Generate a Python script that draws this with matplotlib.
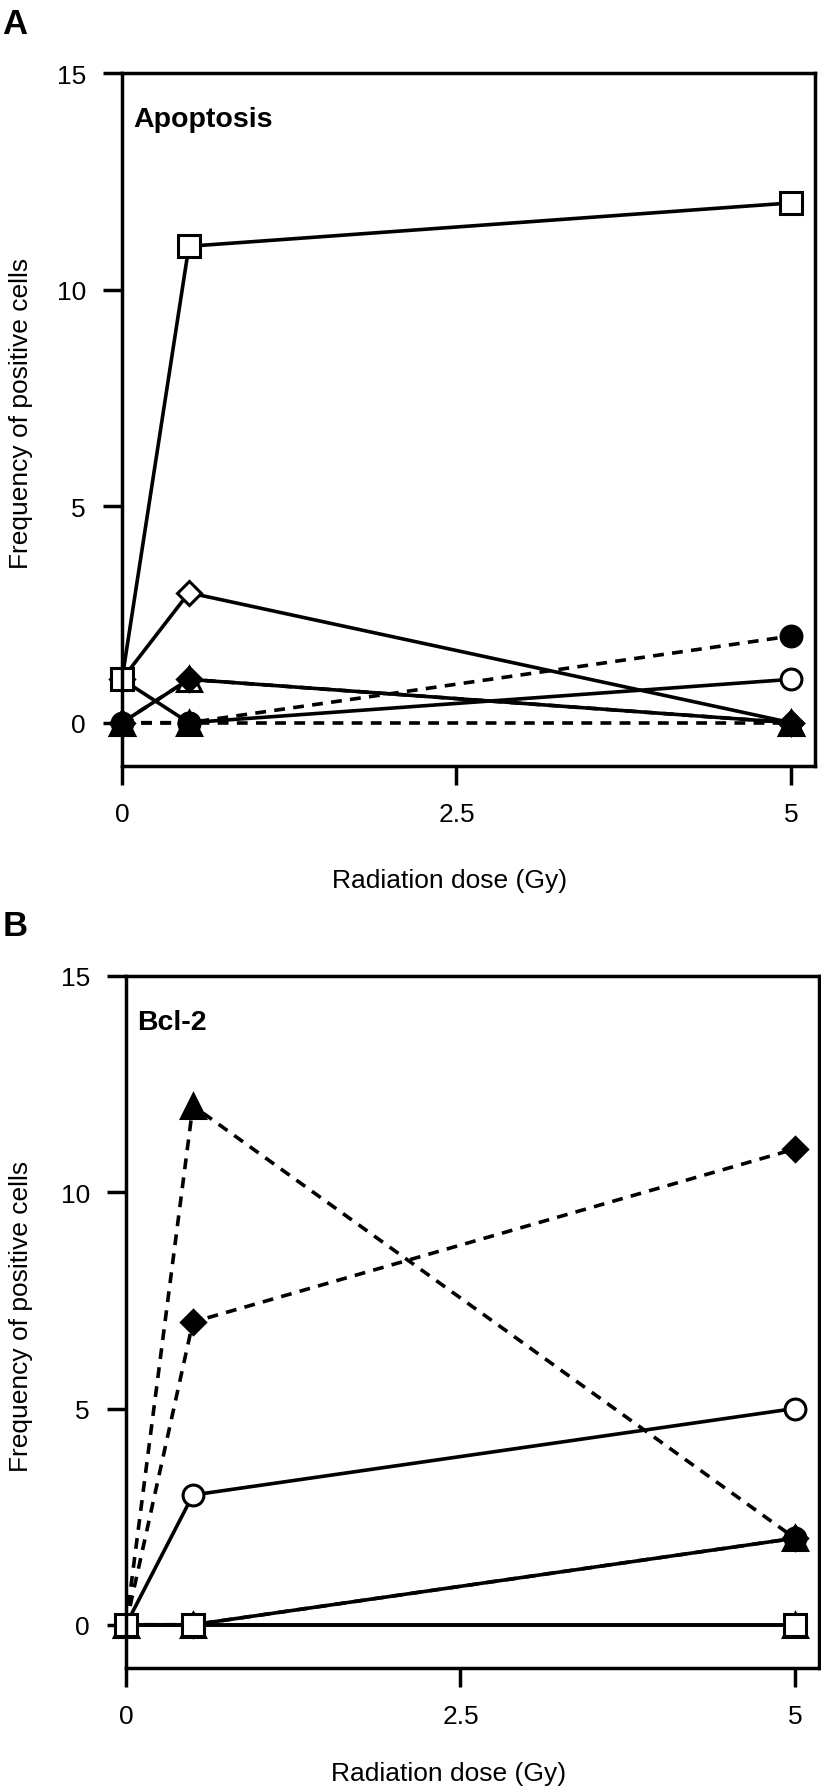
import matplotlib
matplotlib.use("Agg")
import matplotlib.pyplot as plt

plt.rcParams['font.family'] = ['Liberation Sans', 'DejaVu Sans']

dose = [0, 0.5, 5]
dose_ticks = [0, 2.5, 5]
dose_labels = ['0', '2.5', '5']
freq_ticks = [0, 5, 10, 15]

# panel A - apoptosis
a_open_triangle = [0, 1, 0]
a_filled_triangle = [0, 0, 0]
a_open_circle = [1, 0, 1]
a_open_diamond = [1, 3, 0]
a_filled_diamond = [0, 1, 0]
a_filled_circle = [0, 0, 2]
a_open_square = [1, 11, 12]

# panel B - Bcl-2
b_open_triangle = [0, 0, 0]
b_filled_triangle = [0, 12, 2]
b_open_circle = [0, 3, 5]
b_open_diamond = [0, 0, 2]
b_filled_diamond = [0, 7, 11]
b_filled_circle = [0, 0, 2]
b_open_square = [0, 0, 0]

LW = 2.6
DASH = (0, (3.0, 2.3))

# marker, fill, linestyle, size  (drawing order)
styles = [
    ('^', 'white', '-', 17),
    ('^', 'black', DASH, 17),
    ('o', 'white', '-', 15),
    ('D', 'white', '-', 12.5),
    ('D', 'black', DASH, 12.5),
    ('o', 'black', DASH, 15),
    ('s', 'white', '-', 15.5),
]


def draw(ax, series, title):
    for (m, fc, ls, ms), y in zip(styles, series):
        ax.plot(dose, y, color='black', lw=LW, linestyle=ls, marker=m,
                markersize=ms, markerfacecolor=fc, markeredgecolor='black',
                markeredgewidth=2.2, clip_on=False)
    ax.set_xlim(0, 5.18)
    ax.set_ylim(-1, 15)
    ax.set_xticks(dose_ticks)
    ax.set_xticklabels(dose_labels)
    ax.set_yticks(freq_ticks)
    for s in ax.spines.values():
        s.set_linewidth(2.5)
    ax.tick_params(direction='out', length=14, width=2.5, labelsize=19, pad=12)
    ax.set_xlabel('Radiation dose (Gy)', fontsize=19)
    ax.set_ylabel('Frequency of positive cells', fontsize=19)
    ax.text(0.016, 0.934, title, transform=ax.transAxes, fontsize=20.5,
            fontweight='bold', va='center', ha='left')


fig = plt.figure(figsize=(8.21, 17.9), dpi=100)
W, H = 821, 1790

axA = fig.add_axes([122 / W, 1 - 767 / H, 693 / W, 693 / H])
draw(axA, [a_open_triangle, a_filled_triangle, a_open_circle, a_open_diamond,
           a_filled_diamond, a_filled_circle, a_open_square], 'Apoptosis')
axA.xaxis.set_label_coords(0.472, -0.147)
axA.yaxis.set_label_coords(-0.128, 0.51)

axB = fig.add_axes([126 / W, 1 - 1669 / H, 693 / W, 692 / H])
draw(axB, [b_open_triangle, b_filled_triangle, b_open_circle, b_open_diamond,
           b_filled_diamond, b_filled_circle, b_open_square], 'Bcl-2')
axB.xaxis.set_label_coords(0.465, -0.135)
axB.yaxis.set_label_coords(-0.134, 0.51)

fig.text(2 / W, 1 - 8 / H, 'A', fontsize=25, fontweight='bold', va='top', ha='left')
fig.text(3 / W, 1 - 910 / H, 'B', fontsize=25, fontweight='bold', va='top', ha='left')

fig.savefig('out.png', dpi=100)
